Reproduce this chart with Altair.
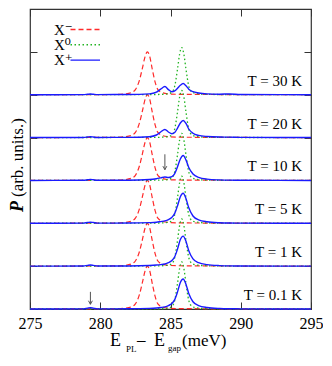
import altair as alt
import pandas as pd

# ---------------- data ----------------
temps = ["T = 0.1 K", "T = 1 K", "T = 5 K", "T = 10 K", "T = 20 K", "T = 30 K"]
panel_offsets = [0, 1, 2, 3, 4, 5]

# X- (red dashed), same shape in every panel
red_energy = [275, 281, 281.8, 282.2, 282.5, 282.8, 283.0, 283.2, 283.35, 283.5,
              283.7, 283.9, 284.1, 284.4, 284.8, 285.5, 288, 295]
red_level = [0, 0.005, 0.02, 0.05, 0.12, 0.35, 0.62, 0.9, 1.0, 0.92,
             0.6, 0.3, 0.12, 0.05, 0.02, 0.01, 0.005, 0]

# X0 (green dotted), same shape in every panel
green_energy = [275, 284, 284.8, 285.1, 285.3, 285.5, 285.65, 285.8, 285.95, 286.1,
                286.3, 286.5, 286.8, 287.5, 289, 295]
green_level = [0, 0.005, 0.02, 0.06, 0.2, 0.6, 0.95, 1.1, 0.95, 0.6,
               0.2, 0.07, 0.03, 0.01, 0.003, 0]

# X+ (blue solid), one series per temperature
blue_energy = [275, 278.8, 279.1, 279.3, 279.5, 279.8, 282, 283.5, 284.0, 284.3,
               284.6, 284.85, 285.1, 285.3, 285.5, 285.7, 285.9, 286.1, 286.3, 286.6,
               287.0, 287.6, 288.5, 289.2, 290, 295]
blue_t01 = [0, 0.003, 0.02, 0.03, 0.02, 0.003, 0.005, 0.015, 0.025, 0.035,
            0.05, 0.08, 0.13, 0.22, 0.4, 0.62, 0.70, 0.58, 0.36, 0.17,
            0.08, 0.035, 0.012, 0.006, 0.004, 0]
blue_t1 = [0, 0.003, 0.018, 0.025, 0.018, 0.003, 0.005, 0.015, 0.025, 0.035,
           0.05, 0.08, 0.13, 0.22, 0.4, 0.62, 0.70, 0.58, 0.36, 0.17,
           0.08, 0.035, 0.012, 0.006, 0.004, 0]
blue_t5 = [0, 0.003, 0.018, 0.025, 0.018, 0.003, 0.005, 0.015, 0.025, 0.04,
           0.055, 0.085, 0.14, 0.23, 0.41, 0.62, 0.70, 0.58, 0.36, 0.17,
           0.08, 0.035, 0.012, 0.006, 0.004, 0]
blue_t10 = [0, 0.003, 0.015, 0.025, 0.015, 0.003, 0.005, 0.02, 0.04, 0.06,
            0.08, 0.07, 0.09, 0.16, 0.32, 0.5, 0.58, 0.48, 0.3, 0.15,
            0.07, 0.03, 0.012, 0.006, 0.004, 0]
blue_t20 = [0, 0.003, 0.012, 0.02, 0.012, 0.003, 0.005, 0.02, 0.06, 0.13,
            0.19, 0.13, 0.09, 0.12, 0.22, 0.34, 0.40, 0.33, 0.2, 0.1,
            0.05, 0.025, 0.012, 0.01, 0.004, 0]
blue_t30 = [0, 0.003, 0.01, 0.015, 0.01, 0.003, 0.005, 0.02, 0.06, 0.13,
            0.19, 0.12, 0.07, 0.09, 0.15, 0.22, 0.26, 0.21, 0.13, 0.07,
            0.04, 0.02, 0.012, 0.018, 0.005, 0]
blue_levels = [blue_t01, blue_t1, blue_t5, blue_t10, blue_t20, blue_t30]

# arrows: energy, tail level, tip level (panel units incl. panel offset)
arrow_energy = [279.3, 284.6]
arrow_top = [0.40, 3.61]
arrow_tip = [0.11, 3.25]

legend_names = ["X⁻", "X⁰", "X⁺"]
x_ticks = [275, 280, 285, 290, 295]

# ---------------- tables ----------------
def stack(energy, levels_per_panel):
    rows = []
    for t, off, lev in zip(temps, panel_offsets, levels_per_panel):
        for e, v in zip(energy, lev):
            rows.append({"temp": t, "energy": e, "P": off + v})
    return pd.DataFrame(rows)

red_df = stack(red_energy, [red_level] * len(temps))
green_df = stack(green_energy, [green_level] * len(temps))
blue_df = stack(blue_energy, blue_levels)
temp_df = pd.DataFrame({"temp": temps, "P": panel_offsets, "energy": [295] * len(temps)})
arrow_df = pd.DataFrame({"energy": arrow_energy, "top": arrow_top, "tip": arrow_tip})

FONT = "Liberation Serif, Times New Roman, DejaVu Serif, serif"
RED, GREEN, BLUE = "#ff2a2a", "#22b422", "#1a1aff"
W, H = 281, 300

xs = alt.Scale(domain=[275, 295], nice=False, zero=False)
ys = alt.Scale(domain=[0, 7], nice=False, zero=False)

red_layer = alt.Chart(red_df).mark_line(
    color=RED, strokeDash=[5, 3], strokeWidth=1.2, interpolate="monotone"
).encode(
    x=alt.X("energy:Q", scale=xs, axis=None),
    y=alt.Y("P:Q", scale=ys, axis=None),
    detail="temp:N",
)

green_layer = alt.Chart(green_df).mark_line(
    color=GREEN, strokeDash=[1.5, 2.5], strokeWidth=1.3, interpolate="monotone"
).encode(
    x=alt.X("energy:Q", scale=xs, axis=None),
    y=alt.Y("P:Q", scale=ys, axis=None),
    detail="temp:N",
)

blue_layer = alt.Chart(blue_df).mark_line(
    color=BLUE, strokeWidth=1.4, interpolate="monotone"
).encode(
    x=alt.X("energy:Q", scale=xs,
            axis=alt.Axis(orient="bottom", values=x_ticks, offset=-7, tickSize=7,
                          domain=False, grid=False, title=None, labelFont=FONT,
                          labelFontSize=16, labelPadding=6, labelColor="black",
                          tickColor="#333", labelFlush=False, format="d")),
    y=alt.Y("P:Q", scale=ys,
            axis=alt.Axis(orient="left", values=list(range(8)), offset=-7, tickSize=7,
                          domain=False, grid=False, title=None, labels=False,
                          tickColor="#333")),
    detail="temp:N",
)

temp_layer = alt.Chart(temp_df).mark_text(
    font=FONT, fontSize=15, align="right", baseline="alphabetic", dx=-9, dy=-9, color="black"
).encode(
    x=alt.X("energy:Q", scale=xs,
            axis=alt.Axis(orient="top", values=x_ticks, offset=-7, tickSize=7,
                          domain=False, grid=False, title=None, labels=False,
                          tickColor="#333")),
    y=alt.Y("P:Q", scale=ys,
            axis=alt.Axis(orient="right", values=list(range(8)), offset=-7, tickSize=7,
                          domain=False, grid=False, title=None, labels=False,
                          tickColor="#333")),
    text="temp:N",
)

arrow_shaft = alt.Chart(arrow_df).mark_rule(color="#555", strokeWidth=1).encode(
    x=alt.X("energy:Q", scale=xs, axis=None),
    y=alt.Y("top:Q", scale=ys, axis=None),
    y2="tip:Q",
)
arrow_head = alt.Chart(arrow_df).mark_point(
    shape="M -0.55 -1 L 0 0 L 0.55 -1", filled=False, size=50, color="#555",
    strokeWidth=1, opacity=1
).encode(
    x=alt.X("energy:Q", scale=xs, axis=None),
    y=alt.Y("tip:Q", scale=ys, axis=None),
)

# ---------------- legend (top left) ----------------
legend_layers = []
leg_colors = [RED, GREEN, BLUE]
leg_dash = [[5, 3], [1.5, 2.5], [1, 0]]
leg_y = [20.5, 35.7, 51.1]
for name, col, dash, yy in zip(legend_names, leg_colors, leg_dash, leg_y):
    d = pd.DataFrame({"label": [name]})
    legend_layers.append(
        alt.Chart(d).mark_rule(color=col, strokeDash=dash, strokeWidth=1.4).encode(
            x=alt.value(40.5), x2=alt.value(70), y=alt.value(yy)
        )
    )
    legend_layers.append(
        alt.Chart(d).mark_text(font=FONT, fontSize=15, align="left", baseline="middle",
                               color="black").encode(
            x=alt.value(24), y=alt.value(yy), text="label:N"
        )
    )

# ---------------- axis titles ----------------
title_parts = [
    ("E", 80, 337, 18),
    ("PL", 96, 342.5, 9),
    ("–", 107, 336, 17),
    ("E", 124, 337, 18),
    ("gap", 138, 341.5, 9),
    ("(meV)", 152, 337, 17),
]
title_layers = []
for txt, tx, ty, fs in title_parts:
    d = pd.DataFrame({"label": [txt]})
    title_layers.append(
        alt.Chart(d).mark_text(font=FONT, fontSize=fs, align="left", baseline="alphabetic",
                               color="black").encode(
            x=alt.value(tx), y=alt.value(ty), text="label:N"
        )
    )

yt1 = alt.Chart(pd.DataFrame({"label": ["P"]})).mark_text(
    font=FONT, fontSize=18, fontStyle="italic", fontWeight="bold", angle=270,
    align="left", baseline="middle", color="black"
).encode(x=alt.value(-12), y=alt.value(203), text="label:N")
yt2 = alt.Chart(pd.DataFrame({"label": ["(arb. units.)"]})).mark_text(
    font=FONT, fontSize=17, angle=270, align="left", baseline="middle", color="black"
).encode(x=alt.value(-12), y=alt.value(188), text="label:N")

chart = alt.layer(
    red_layer, green_layer, blue_layer, temp_layer, arrow_shaft, arrow_head,
    *legend_layers, *title_layers, yt1, yt2
).resolve_axis(
    x="independent", y="independent"
).properties(
    width=W, height=H,
    autosize=alt.AutoSizeParams(type="none"),
    padding={"left": 22, "top": 1, "right": 12, "bottom": 45},
    background="white",
).configure_view(
    stroke="#333", strokeWidth=1.2
)

chart.save("out.html", embed_options={"renderer": "svg", "actions": False})
